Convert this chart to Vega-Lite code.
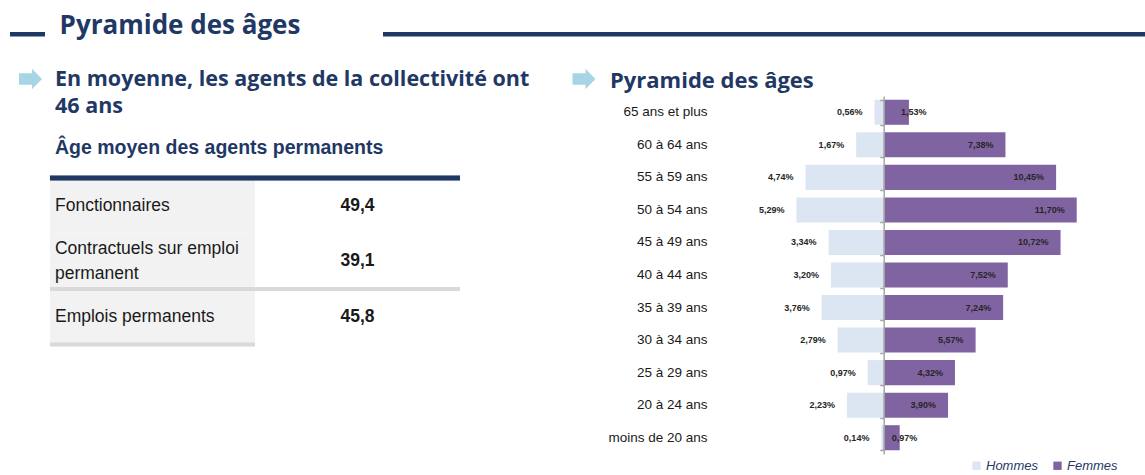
{
  "$schema": "https://vega.github.io/schema/vega-lite/v6.json",
  "padding": {"left": 10, "top": 13, "right": 0, "bottom": 0},
  "background": "white",
  "config": {
    "view": {"stroke": null},
    "font": "Liberation Sans",
    "locale": {"number": {"decimal": ",", "thousands": " ", "grouping": [3], "currency": ["", " €"]}}
  },
  "spacing": 28,
  "resolve": {"legend": {"color": "independent"}},
  "vconcat": [
    {
      "bounds": "flush",
      "spacing": 0,
      "hconcat": [
        {"width": 35, "height": 4.5, "data": {"values": []}, "mark": "rect", "encoding": {}, "view": {"fill": "#1f3864", "stroke": null}},
        {"width": 17, "height": 4.5, "data": {"values": []}, "mark": "rect", "encoding": {}},
        {"width": 236, "height": 4.5, "data": {"values": [{"titre": "Pyramide des âges"}]},
         "mark": {"type": "text", "font": "Open Sans", "fontSize": 26, "fontWeight": "bold", "color": "#1f3864", "baseline": "alphabetic", "align": "center"},
         "encoding": {"text": {"field": "titre", "type": "nominal"}}},
        {"width": 85, "height": 4.5, "data": {"values": []}, "mark": "rect", "encoding": {}},
        {"width": 762, "height": 4.5, "data": {"values": []}, "mark": "rect", "encoding": {}, "view": {"fill": "#1f3864", "stroke": null}}
      ]
    },
    {
      "spacing": 32,
      "resolve": {"legend": {"color": "independent"}},
      "hconcat": [
        {
          "bounds": "flush",
          "spacing": 88,
          "vconcat": [
            {"width": 41, "height": 22, "data": {"values": [{"fleche": 1}]},
             "mark": {"type": "point", "shape": "M -1 -0.5 L 0.13 -0.5 L 0.13 -0.9 L 1 0 L 0.13 0.9 L 0.13 0.5 L -1 0.5 Z", "size": 529, "filled": true, "color": "#a8d5e5", "opacity": 1, "strokeWidth": 0},
             "encoding": {}},
            {
              "width": 450, "height": 166.5,
              "title": {"text": ["En moyenne, les agents de la collectivité ont", "46 ans"], "subtitle": "Âge moyen des agents permanents",
                        "anchor": "start", "frame": "group", "dx": 45, "offset": 18,
                        "font": "Open Sans", "fontSize": 21.5, "fontWeight": "bold", "color": "#1f3864", "lineHeight": 27,
                        "subtitleFont": "Liberation Sans", "subtitleFontSize": 19.5, "subtitleFontWeight": "bold", "subtitleColor": "#1f3864", "subtitlePadding": 22},
              "data": {"values": [
                {"ligne": "Fonctionnaires", "age": 49.4},
                {"ligne": "Contractuels sur emploi\npermanent", "age": 39.1},
                {"ligne": "Emplois permanents", "age": 45.8}
              ]},
              "layer": [
                {"mark": {"type": "rect", "color": "#f2f2f2"},
                 "encoding": {
                   "x": {"datum": 0, "type": "quantitative", "scale": {"domain": [-0.195, 2], "nice": false}, "axis": null},
                   "x2": {"datum": 1},
                   "y": {"field": "ligne", "type": "nominal", "sort": null, "scale": {"domain": ["Fonctionnaires", "Contractuels sur emploi\npermanent", "Emplois permanents"], "padding": 0}, "axis": null}
                 }},
                {"mark": {"type": "rule", "color": "#d9d9d9", "strokeWidth": 3.5},
                 "encoding": {
                   "x": {"datum": 0, "type": "quantitative"}, "x2": {"datum": 2},
                   "y": {"datum": "Emplois permanents", "type": "nominal", "bandPosition": 0}
                 }},
                {"mark": {"type": "rule", "color": "#d9d9d9", "strokeWidth": 3.5},
                 "encoding": {
                   "x": {"datum": 0, "type": "quantitative"}, "x2": {"datum": 1},
                   "y": {"datum": "Emplois permanents", "type": "nominal", "bandPosition": 1}
                 }},
                {"mark": {"type": "rule", "color": "#1f3864", "strokeWidth": 4.5},
                 "encoding": {
                   "x": {"datum": 0, "type": "quantitative"}, "x2": {"datum": 2},
                   "y": {"datum": "Fonctionnaires", "type": "nominal", "bandPosition": 0}
                 }},
                {"transform": [{"filter": "indexof(datum.ligne, '\\n') < 0"}],
                 "mark": {"type": "text", "align": "left", "baseline": "middle", "dx": 5, "font": "Liberation Sans", "fontSize": 17.5, "color": "#1a1a1a"},
                 "encoding": {
                   "x": {"datum": 0, "type": "quantitative"},
                   "y": {"field": "ligne", "type": "nominal", "sort": null},
                   "text": {"field": "ligne", "type": "nominal"}
                 }},
                {"transform": [{"filter": "indexof(datum.ligne, '\\n') >= 0"}],
                 "mark": {"type": "text", "align": "left", "baseline": "middle", "dx": 5, "dy": -12.5, "lineBreak": "\n", "lineHeight": 25, "font": "Liberation Sans", "fontSize": 17.5, "color": "#1a1a1a"},
                 "encoding": {
                   "x": {"datum": 0, "type": "quantitative"},
                   "y": {"field": "ligne", "type": "nominal", "sort": null},
                   "text": {"field": "ligne", "type": "nominal"}
                 }},
                {"mark": {"type": "text", "align": "center", "baseline": "middle", "font": "Liberation Sans", "fontSize": 17.5, "fontWeight": "bold", "color": "#1a1a1a"},
                 "encoding": {
                   "x": {"datum": 1.5, "type": "quantitative"},
                   "y": {"field": "ligne", "type": "nominal", "sort": null},
                   "text": {"field": "age", "type": "quantitative", "format": ".1f"}
                 }}
              ]
            }
          ]
        },
        {
          "bounds": "flush",
          "spacing": 6,
          "resolve": {"legend": {"color": "independent"}},
          "vconcat": [
            {"width": 44, "height": 22, "data": {"values": [{"fleche": 1}]},
             "mark": {"type": "point", "shape": "M -1 -0.5 L 0.13 -0.5 L 0.13 -0.9 L 1 0 L 0.13 0.9 L 0.13 0.5 L -1 0.5 Z", "size": 529, "filled": true, "color": "#a8d5e5", "opacity": 1, "strokeWidth": 0},
             "encoding": {}},
            {
              "width": 537, "height": 358,
              "title": {"text": "Pyramide des âges", "anchor": "start", "frame": "group", "dx": 48, "offset": 3,
                        "font": "Open Sans", "fontSize": 22, "fontWeight": "bold", "color": "#1f3864"},
              "data": {"values": [
                {"age": "65 ans et plus", "sexe": "Hommes", "part": 0.0056},
                {"age": "60 à 64 ans", "sexe": "Hommes", "part": 0.0167},
                {"age": "55 à 59 ans", "sexe": "Hommes", "part": 0.0474},
                {"age": "50 à 54 ans", "sexe": "Hommes", "part": 0.0529},
                {"age": "45 à 49 ans", "sexe": "Hommes", "part": 0.0334},
                {"age": "40 à 44 ans", "sexe": "Hommes", "part": 0.0320},
                {"age": "35 à 39 ans", "sexe": "Hommes", "part": 0.0376},
                {"age": "30 à 34 ans", "sexe": "Hommes", "part": 0.0279},
                {"age": "25 à 29 ans", "sexe": "Hommes", "part": 0.0097},
                {"age": "20 à 24 ans", "sexe": "Hommes", "part": 0.0223},
                {"age": "moins de 20 ans", "sexe": "Hommes", "part": 0.0014},
                {"age": "65 ans et plus", "sexe": "Femmes", "part": 0.0153},
                {"age": "60 à 64 ans", "sexe": "Femmes", "part": 0.0738},
                {"age": "55 à 59 ans", "sexe": "Femmes", "part": 0.1045},
                {"age": "50 à 54 ans", "sexe": "Femmes", "part": 0.1170},
                {"age": "45 à 49 ans", "sexe": "Femmes", "part": 0.1072},
                {"age": "40 à 44 ans", "sexe": "Femmes", "part": 0.0752},
                {"age": "35 à 39 ans", "sexe": "Femmes", "part": 0.0724},
                {"age": "30 à 34 ans", "sexe": "Femmes", "part": 0.0557},
                {"age": "25 à 29 ans", "sexe": "Femmes", "part": 0.0432},
                {"age": "20 à 24 ans", "sexe": "Femmes", "part": 0.0390},
                {"age": "moins de 20 ans", "sexe": "Femmes", "part": 0.0097}
              ]},
              "resolve": {"scale": {"x": "independent"}, "axis": {"y": "independent", "x": "independent"}},
              "layer": [
                {
                  "transform": [{"filter": "datum.sexe === 'Hommes'"}],
                  "mark": {"type": "bar"},
                  "encoding": {
                    "x": {"field": "part", "type": "quantitative", "scale": {"domain": [-0.1305, 0.195], "reverse": true, "nice": false}, "axis": null},
                    "y": {"field": "age", "type": "nominal", "sort": null,
                          "scale": {"domain": ["65 ans et plus", "60 à 64 ans", "55 à 59 ans", "50 à 54 ans", "45 à 49 ans", "40 à 44 ans", "35 à 39 ans", "30 à 34 ans", "25 à 29 ans", "20 à 24 ans", "moins de 20 ans"], "paddingInner": 0.23, "paddingOuter": 0.115},
                          "axis": {"orient": "left", "offset": -155, "title": null, "domain": false, "ticks": false, "tickSize": 0, "labelPadding": 10, "labelFont": "Liberation Sans", "labelFontSize": 13.5, "labelColor": "#1a1a1a", "grid": false}},
                    "color": {"field": "sexe", "type": "nominal", "scale": {"domain": ["Hommes", "Femmes"], "range": ["#dce6f2", "#8064a2"]},
                              "legend": {"title": null, "orient": "bottom-right", "offset": -19, "direction": "horizontal", "symbolType": "square", "symbolSize": 70, "symbolStrokeWidth": 0, "labelFont": "Liberation Sans", "labelFontSize": 13, "labelFontStyle": "italic", "labelColor": "#1f3864", "columnPadding": 12, "labelOffset": 3, "padding": 0}}
                  }
                },
                {
                  "transform": [{"filter": "datum.sexe === 'Hommes'"}],
                  "mark": {"type": "text", "align": "right", "baseline": "middle", "dx": -12, "font": "Liberation Sans", "fontSize": 9, "fontWeight": "bold", "color": "#262626"},
                  "encoding": {
                    "x": {"field": "part", "type": "quantitative", "scale": {"domain": [-0.1305, 0.195], "reverse": true, "nice": false}, "axis": null},
                    "y": {"field": "age", "type": "nominal", "sort": null, "axis": null},
                    "text": {"field": "part", "type": "quantitative", "format": ".2%"}
                  }
                },
                {
                  "transform": [{"filter": "datum.sexe === 'Femmes'"}],
                  "mark": {"type": "bar"},
                  "encoding": {
                    "x": {"field": "part", "type": "quantitative", "scale": {"domain": [-0.195, 0.1305], "nice": false}, "axis": null},
                    "y": {"field": "age", "type": "nominal", "sort": null,
                          "axis": {"orient": "left", "offset": -321.7, "title": null, "labels": false, "domain": true, "domainColor": "#a6a6a6", "domainWidth": 1.5, "ticks": true, "tickBand": "extent", "tickSize": 4, "tickColor": "#a6a6a6", "tickWidth": 1.5, "grid": false, "zindex": 1}},
                    "color": {"field": "sexe", "type": "nominal",
                              "legend": {"title": null, "orient": "bottom-right", "offset": -19, "direction": "horizontal", "symbolType": "square", "symbolSize": 70, "symbolStrokeWidth": 0, "labelFont": "Liberation Sans", "labelFontSize": 13, "labelFontStyle": "italic", "labelColor": "#1f3864", "columnPadding": 12, "labelOffset": 3, "padding": 0}}
                  }
                },
                {
                  "transform": [{"filter": "datum.sexe === 'Femmes' && datum.part >= 0.02"}],
                  "mark": {"type": "text", "align": "right", "baseline": "middle", "dx": -12, "font": "Liberation Sans", "fontSize": 9, "fontWeight": "bold", "color": "#262626"},
                  "encoding": {
                    "x": {"field": "part", "type": "quantitative", "scale": {"domain": [-0.195, 0.1305], "nice": false}, "axis": null},
                    "y": {"field": "age", "type": "nominal", "sort": null, "axis": null},
                    "text": {"field": "part", "type": "quantitative", "format": ".2%"}
                  }
                },
                {
                  "transform": [{"filter": "datum.sexe === 'Femmes' && datum.part < 0.02"}],
                  "mark": {"type": "text", "align": "left", "baseline": "middle", "dx": -8, "font": "Liberation Sans", "fontSize": 9, "fontWeight": "bold", "color": "#262626"},
                  "encoding": {
                    "x": {"field": "part", "type": "quantitative", "scale": {"domain": [-0.195, 0.1305], "nice": false}, "axis": null},
                    "y": {"field": "age", "type": "nominal", "sort": null, "axis": null},
                    "text": {"field": "part", "type": "quantitative", "format": ".2%"}
                  }
                }
              ]
            }
          ]
        }
      ]
    }
  ]
}
